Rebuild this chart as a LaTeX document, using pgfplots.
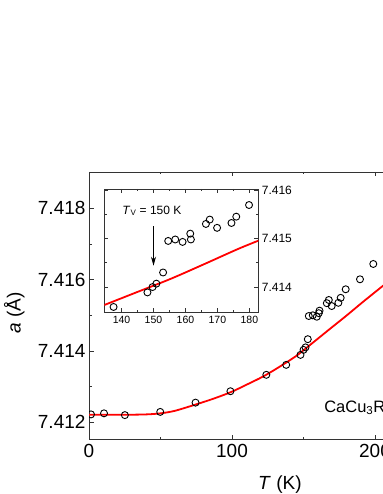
\documentclass[border=0pt]{standalone}
\usepackage{fontspec}
\setmainfont{Liberation Sans}
\usepackage{pgfplots}
\usepackage{pgfplotstable}
\pgfplotsset{compat=1.18}
\usetikzlibrary{arrows.meta}
\definecolor{axisgray}{HTML}{333333}

% main panel: measured lattice parameter
\pgfplotstableread{
T a
1.4 7.41222
10.5 7.41225
25.1 7.41220
49.8 7.41229
74.5 7.41255
98.9 7.41287
124.0 7.41333
137.9 7.41361
147.9 7.41389
150.0 7.41403
151.4 7.41410
153.0 7.41433
153.7 7.41498
156.5 7.41500
159.3 7.41496
160.7 7.41506
161.2 7.41513
166.3 7.41534
167.7 7.41543
169.7 7.41526
174.4 7.41535
176.0 7.41549
179.5 7.41573
189.5 7.41601
198.8 7.41644
}\mainpts

% fit curve
\pgfplotstableread{
T a
0 7.41221
25 7.41221
40 7.41222
50 7.41225
60 7.41232
74 7.41249
87 7.41266
99.5 7.41285
110 7.41305
121.6 7.41328
133 7.41355
144.9 7.41386
156.5 7.41423
168.2 7.41461
180 7.41499
191.4 7.41537
204.4 7.41579
220 7.41629
}\mainfit

% inset: zoom around the Verwey transition
\pgfplotstableread{
T a
137.5 7.41359
148.1 7.41389
149.7 7.41400
150.9 7.41407
153.0 7.41430
154.6 7.41495
156.8 7.41498
159.1 7.41493
161.5 7.41510
161.7 7.41498
166.4 7.41530
167.6 7.41539
169.9 7.41522
174.4 7.41532
175.9 7.41545
179.9 7.41569
}\insetpts

\pgfplotstableread{
T a
134.6 7.41363
145.0 7.41390
155.4 7.41417
165.8 7.41447
176.3 7.41478
183.0 7.41496
}\insetfit

\begin{document}
\begin{tikzpicture}
\begin{axis}[
  at={(89pt,55pt)}, anchor=south west,
  scale only axis,
  width=429pt, height=267pt,
  xmin=0, xmax=300,
  ymin=7.41153, ymax=7.41902,
  xtick={0,100,200,300},
  minor xtick={50,150,250},
  ytick={7.412,7.414,7.416,7.418},
  minor ytick={7.413,7.415,7.417},
  scaled y ticks=false,
  yticklabel style={/pgf/number format/fixed,/pgf/number format/precision=3,/pgf/number format/fixed zerofill},
  /pgf/number format/assume math mode=true,
  tick label style={font=\fontsize{19}{19}\selectfont},
  xticklabel style={yshift=-2pt},
  tick align=inside,
  major tick length=4.5pt,
  minor tick length=2.5pt,
  axis line style={axisgray,line width=0.9pt},
  every tick/.style={axisgray,line width=0.8pt},
  xlabel={\textit{T} (K)},
  ylabel={\textit{a} (Å)},
  label style={font=\fontsize{19}{19}\selectfont},
  xlabel style={at={(axis description cs:0.445,-0.172)},anchor=center},
  ylabel style={at={(axis description cs:-0.174,0.472)},anchor=center},
  clip marker paths=true,
]
\addplot[red,line width=1.8pt,smooth] table[x=T,y=a] {\mainfit};
\addplot[only marks,mark=o,mark size=3.5pt,mark options={black,line width=0.9pt}] table[x=T,y=a] {\mainpts};
\node[anchor=base west,font=\fontsize{16.5}{16.5}\selectfont,inner sep=0pt] at (rel axis cs:0.548,0.100) {CaCu\textsubscript{3}Ru\textsubscript{4}O\textsubscript{12}};
\end{axis}

\begin{axis}[
  at={(104.3pt,181.7pt)}, anchor=south west,
  scale only axis,
  width=154pt, height=123.3pt,
  xmin=134.6, xmax=182.8,
  ymin=7.41348, ymax=7.41602,
  axis background/.style={fill=white},
  xtick={140,150,...,180},
  minor x tick num=1,
  ytick={7.414,7.415,7.416},
  minor y tick num=1,
  yticklabel pos=right,
  ytick pos=both,
  scaled y ticks=false,
  yticklabel style={/pgf/number format/fixed,/pgf/number format/precision=3,/pgf/number format/fixed zerofill,font=\fontsize{12}{12}\selectfont},
  xticklabel style={font=\fontsize{10.5}{10.5}\selectfont},
  /pgf/number format/assume math mode=true,
  tick align=inside,
  major tick length=4pt,
  minor tick length=2.5pt,
  axis line style={axisgray,line width=0.9pt},
  every tick/.style={axisgray,line width=0.8pt},
  clip marker paths=true,
]
\addplot[red,line width=1.8pt,smooth] table[x=T,y=a] {\insetfit};
\addplot[only marks,mark=o,mark size=3.5pt,mark options={black,line width=0.9pt}] table[x=T,y=a] {\insetpts};
\draw[black,line width=0.8pt,-{Stealth[length=9pt,width=5pt]}] (axis cs:150,7.41525) -- (axis cs:150,7.41444);
\node[anchor=base west,font=\fontsize{12}{12}\selectfont] at (rel axis cs:0.095,0.796) {\textit{T}\textsubscript{V} = 150 K};
\end{axis}

\pgfresetboundingbox
\useasboundingbox (0,0) rectangle (382pt,494pt);
\end{tikzpicture}
\end{document}
